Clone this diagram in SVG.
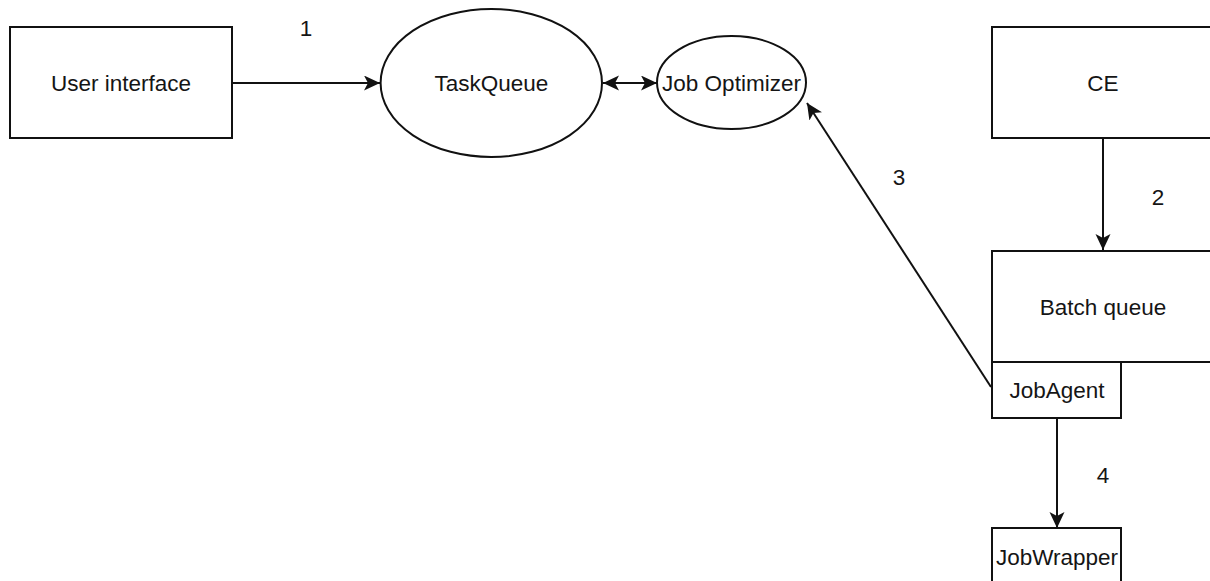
<svg xmlns="http://www.w3.org/2000/svg" width="1210" height="581" viewBox="0 0 1210 581">
  <style>
    .shape { fill: #ffffff; stroke: #111111; stroke-width: 2; }
    .label { font-family: "Liberation Sans", Arial, sans-serif; font-size: 22.5px; fill: #151515; text-anchor: middle; dominant-baseline: central; }
    .edge { fill: none; stroke: #111111; stroke-width: 2; }
  </style>
  <defs>
    <marker id="arrow" markerUnits="userSpaceOnUse" markerWidth="17" markerHeight="16" refX="16" refY="7.5" orient="auto-start-reverse" viewBox="0 0 17 16">
      <path d="M0,0 L16,7.5 L0,15 L4,7.5 Z" fill="#111111"/>
    </marker>
  </defs>
  <rect width="1210" height="581" fill="#ffffff"/>

  <!-- connectors -->
  <g id="connectors">
    <line class="edge" x1="232" y1="83" x2="380" y2="83" marker-end="url(#arrow)"/>
    <line class="edge" x1="603" y1="83" x2="657" y2="83" marker-start="url(#arrow)" marker-end="url(#arrow)"/>
    <line class="edge" x1="1103" y1="138" x2="1103" y2="250" marker-end="url(#arrow)"/>
    <line class="edge" x1="991" y1="387" x2="807" y2="103" marker-end="url(#arrow)"/>
    <line class="edge" x1="1057" y1="418" x2="1057" y2="528" marker-end="url(#arrow)"/>
    <text class="label" x="306" y="28">1</text>
    <text class="label" x="1158" y="197">2</text>
    <text class="label" x="899" y="177">3</text>
    <text class="label" x="1103" y="475">4</text>
  </g>

  <g id="user-interface">
    <rect class="shape" x="10" y="27" width="222" height="111"/>
    <text class="label" x="121" y="83">User interface</text>
  </g>

  <g id="task-queue">
    <ellipse class="shape" cx="491.3" cy="83" rx="110.7" ry="74"/>
    <text class="label" x="491.3" y="83">TaskQueue</text>
  </g>

  <g id="job-optimizer">
    <ellipse class="shape" cx="731.5" cy="82.5" rx="74.5" ry="46.5"/>
    <text class="label" x="731.5" y="83">Job Optimizer</text>
  </g>

  <g id="ce">
    <rect class="shape" x="992" y="27" width="222" height="111"/>
    <text class="label" x="1103" y="83">CE</text>
  </g>

  <g id="batch-queue">
    <rect class="shape" x="992" y="251" width="222" height="111"/>
    <text class="label" x="1103" y="307">Batch queue</text>
  </g>

  <g id="job-agent">
    <rect class="shape" x="992" y="362" width="129" height="56"/>
    <text class="label" x="1057" y="390">JobAgent</text>
  </g>

  <g id="job-wrapper">
    <rect class="shape" x="992" y="528" width="129" height="56"/>
    <text class="label" x="1057" y="557">JobWrapper</text>
  </g>
</svg>
